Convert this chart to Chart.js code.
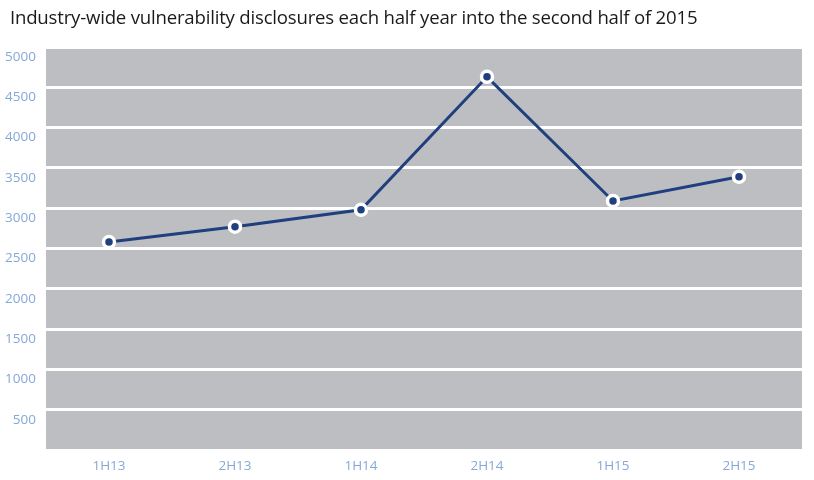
<!DOCTYPE html>
<html>
<head>
<meta charset="utf-8">
<script src="https://cdn.jsdelivr.net/npm/chart.js@4"></script>
<style>
  html, body { margin: 0; padding: 0; background: #fff; }
  #wrap { position: relative; width: 814px; height: 480px; }
  #title { position: absolute; left: 10px; top: 4px; font-family: "Open Sans", "Noto Sans", sans-serif; font-size: 18.6px; color: #1a1a1a; white-space: nowrap; letter-spacing: -0.2px; }
  canvas { position: absolute; left: 0; top: 0; }
</style>
</head>
<body>
<div id="wrap">
  <canvas id="c" width="814" height="480"></canvas>
  <div id="title">Industry-wide vulnerability disclosures each half year into the second half of 2015</div>
</div>
<script>
const categories = ["1H13", "2H13", "1H14", "2H14", "1H15", "2H15"];
const disclosures = [2580, 2770, 2980, 4630, 3090, 3390];
const yMin = 0, yMax = 5000, yStep = 500;

const bgPlugin = {
  id: 'bg',
  beforeDraw(chart) {
    const { ctx, chartArea: a } = chart;
    ctx.save();
    ctx.fillStyle = '#bdbec2';
    ctx.fillRect(a.left, a.top, a.right - a.left, a.bottom - a.top);
    ctx.restore();
  }
};

new Chart(document.getElementById('c'), {
  type: 'line',
  data: {
    labels: categories,
    datasets: [{
      data: disclosures,
      borderColor: '#1f3f7e',
      borderWidth: 3,
      pointRadius: 5.5,
      pointBorderWidth: 3.5,
      pointBackgroundColor: '#1f3f7e',
      pointBorderColor: '#ffffff',
      tension: 0
    }]
  },
  options: {
    responsive: false,
    animation: false,
    layout: { padding: { top: 47, right: 12, left: 0, bottom: 0 } },
    plugins: { legend: { display: false }, tooltip: { enabled: false } },
    scales: {
      x: {
        offset: true,
        grid: { display: false },
        border: { display: false },
        ticks: { color: '#86a8d8', font: { family: 'Open Sans', size: 13.5 }, padding: 0 },
        afterFit(s) { s.height = 30; }
      },
      y: {
        min: yMin, max: yMax,
        grid: { color: '#ffffff', lineWidth: 3, drawTicks: false },
        border: { display: false },
        ticks: {
          stepSize: yStep,
          color: '#86a8d8',
          font: { family: 'Open Sans', size: 13.5 },
          padding: 10,
          labelOffset: 10,
          callback: v => v === 0 ? '' : v
        },
        afterFit(s) { s.width = 46; }
      }
    }
  },
  plugins: [bgPlugin]
});
</script>
</body>
</html>
